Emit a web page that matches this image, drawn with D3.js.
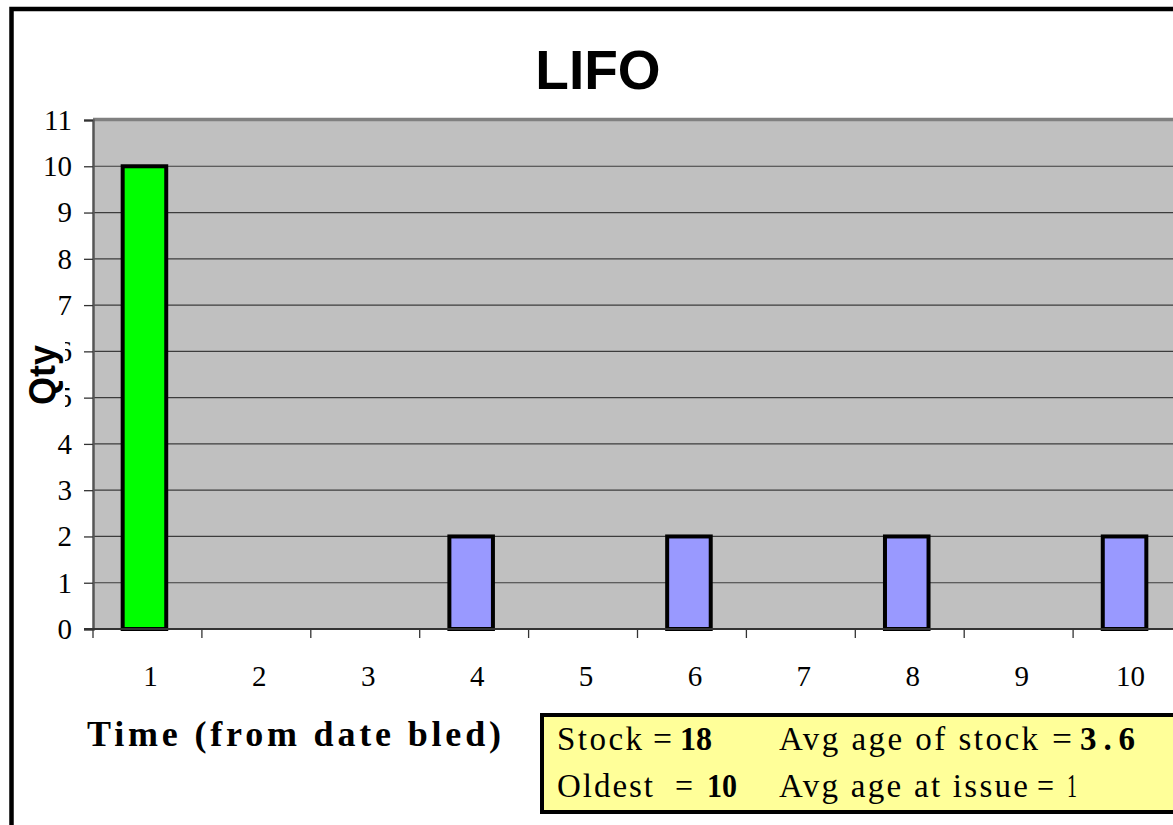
<!DOCTYPE html>
<html>
<head>
<meta charset="utf-8">
<script src="https://cdn.jsdelivr.net/npm/d3@7/dist/d3.min.js"></script>
<style>
  html, body { margin: 0; padding: 0; background: #fff; overflow: hidden; }
  svg { display: block; }
</style>
</head>
<body>
<svg id="chart" width="1173" height="825"></svg>
<script>
// Stock held, by age in days since the unit was bled (LIFO issuing)
const ages = [1, 2, 3, 4, 5, 6, 7, 8, 9, 10];
const qty = [10, 0, 0, 2, 0, 2, 0, 2, 0, 2];
const yTicks = [0, 1, 2, 3, 4, 5, 6, 7, 8, 9, 10, 11];
const avgAgeOfStock = "3.6";
const avgAgeAtIssue = "1";

const data = ages.map((a, i) => ({ age: a, qty: qty[i] }));
const stock = d3.sum(qty);
const oldest = d3.max(data.filter(d => d.qty > 0), d => d.age);

const svg = d3.select("#chart");
const serif = "'Liberation Serif', 'Times New Roman', serif";
const sans = "'Liberation Sans', Arial, sans-serif";

const plot = { left: 93, right: 1182, top: 120, bottom: 629 };

const x = d3.scaleBand()
  .domain(ages)
  .range([plot.left, plot.right])
  .paddingInner(0.6)
  .paddingOuter(0.3);

const y = d3.scaleLinear()
  .domain([0, 11])
  .range([plot.bottom, plot.top]);

// outer chart frame
svg.append("rect")
  .attr("x", 11.5).attr("y", 9)
  .attr("width", 1200).attr("height", 900)
  .attr("fill", "none")
  .attr("stroke", "#000")
  .attr("stroke-width", 4.5);

// title
svg.append("text")
  .attr("x", 598).attr("y", 89)
  .attr("text-anchor", "middle")
  .attr("font-family", sans)
  .attr("font-weight", "bold")
  .attr("font-size", 55)
  .text("LIFO");

// plot background
svg.append("rect")
  .attr("x", plot.left).attr("y", plot.top)
  .attr("width", plot.right - plot.left)
  .attr("height", plot.bottom - plot.top)
  .attr("fill", "#c0c0c0");

// horizontal gridlines
svg.append("g")
  .selectAll("line")
  .data(yTicks.filter(t => t > 0 && t < 11))
  .join("line")
  .attr("x1", plot.left).attr("x2", plot.right)
  .attr("y1", d => y(d)).attr("y2", d => y(d))
  .attr("stroke", "#3c3c3c")
  .attr("stroke-width", 1.2);

// top edge of plot
svg.append("line")
  .attr("x1", plot.left).attr("x2", plot.right)
  .attr("y1", y(11) - 0.5).attr("y2", y(11) - 0.5)
  .attr("stroke", "#808080")
  .attr("stroke-width", 3.5);

// y axis
const yAxis = d3.axisLeft(y)
  .tickValues(yTicks)
  .tickSize(9)
  .tickPadding(12)
  .tickFormat(d3.format("d"));

const gy = svg.append("g")
  .attr("transform", `translate(${plot.left},0)`)
  .call(yAxis);
gy.select(".domain").attr("stroke", "#555").attr("stroke-width", 2.5);
gy.selectAll(".tick line").attr("stroke", "#333").attr("stroke-width", 1.3);
gy.selectAll(".tick text")
  .attr("font-family", serif)
  .attr("font-size", 29)
  .attr("fill", "#000");

// bars (drawn a touch left of the category centre)
const barShift = -3;
svg.append("g")
  .selectAll("rect")
  .data(data.filter(d => d.qty > 0))
  .join("rect")
  .attr("x", d => x(d.age) + barShift)
  .attr("y", d => y(d.qty))
  .attr("width", x.bandwidth())
  .attr("height", d => y(0) - y(d.qty))
  .attr("fill", d => d.age === 1 ? "#00ff00" : "#9999ff")
  .attr("stroke", "#000")
  .attr("stroke-width", 4);

// x axis line and category boundary ticks
const step = x.step();
const edge0 = x(ages[0]) - (step - x.bandwidth()) / 2;
svg.append("line")
  .attr("x1", plot.left - 9).attr("x2", plot.right)
  .attr("y1", y(0)).attr("y2", y(0))
  .attr("stroke", "#333")
  .attr("stroke-width", 2);

svg.append("g")
  .selectAll("line")
  .data(d3.range(ages.length + 1))
  .join("line")
  .attr("x1", k => edge0 + k * step).attr("x2", k => edge0 + k * step)
  .attr("y1", y(0)).attr("y2", y(0) + 9)
  .attr("stroke", "#333")
  .attr("stroke-width", 1.3);

// category labels
svg.append("g")
  .selectAll("text")
  .data(ages)
  .join("text")
  .attr("x", d => x(d) + x.bandwidth() / 2 + 3)
  .attr("y", 686)
  .attr("text-anchor", "middle")
  .attr("font-family", serif)
  .attr("font-size", 29)
  .text(d => d);

// y axis title
svg.append("rect")
  .attr("x", 24).attr("y", 336)
  .attr("width", 41).attr("height", 78)
  .attr("fill", "#fff");
svg.append("text")
  .attr("transform", "translate(55,375) rotate(-90)")
  .attr("text-anchor", "middle")
  .attr("font-family", sans)
  .attr("font-weight", "bold")
  .attr("font-size", 36)
  .text("Qty");

// x axis title
svg.append("text")
  .attr("x", 87).attr("y", 746)
  .attr("font-family", serif)
  .attr("font-weight", "bold")
  .attr("font-size", 36)
  .attr("textLength", 414)
  .attr("lengthAdjust", "spacing")
  .text("Time (from date bled)");

// summary box
svg.append("rect")
  .attr("x", 542).attr("y", 715)
  .attr("width", 700).attr("height", 97)
  .attr("fill", "#ffff99")
  .attr("stroke", "#000")
  .attr("stroke-width", 4);

const boxText = [
  { t: "Stock", x: 557, y: 750, w: 85, b: false },
  { t: "=", x: 653, y: 750, w: 19, b: false },
  { t: String(stock), x: 680, y: 750, w: 32, b: true },
  { t: "Avg age of stock", x: 779, y: 750, w: 259, b: false },
  { t: "=", x: 1052, y: 750, w: 20, b: false },
  { t: avgAgeOfStock, x: 1080, y: 750, w: 55, b: true },
  { t: "Oldest", x: 557, y: 797, w: 96, b: false },
  { t: "=", x: 675, y: 797, w: 18, b: false },
  { t: String(oldest), x: 707, y: 797, w: 30, b: true },
  { t: "Avg age at issue", x: 779, y: 797, w: 249, b: false },
  { t: "=", x: 1037, y: 797, w: 17, b: false },
  { t: avgAgeAtIssue, x: 1067, y: 797, w: 10, b: false }
];

svg.append("g")
  .selectAll("text")
  .data(boxText)
  .join("text")
  .attr("x", d => d.x)
  .attr("y", d => d.y)
  .attr("font-family", serif)
  .attr("font-size", 33)
  .attr("font-weight", d => d.b ? "bold" : "normal")
  .attr("textLength", d => d.w)
  .attr("lengthAdjust", d => d.t.length > 2 ? "spacing" : "spacingAndGlyphs")
  .text(d => d.t);
</script>
</body>
</html>
